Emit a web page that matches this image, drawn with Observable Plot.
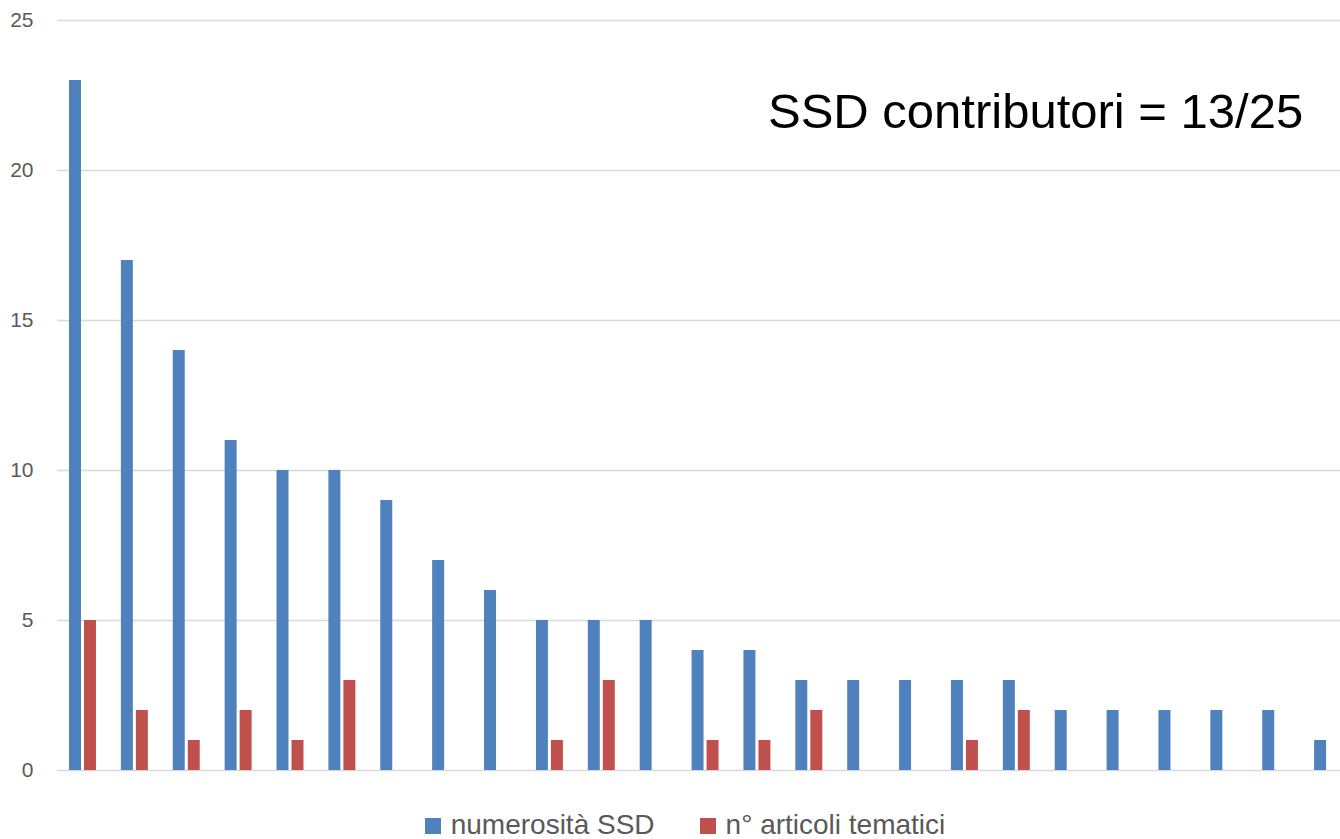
<!DOCTYPE html>
<html>
<head>
<meta charset="utf-8">
<script src="https://cdn.jsdelivr.net/npm/d3@7"></script>
<script src="https://cdn.jsdelivr.net/npm/@observablehq/plot@0.6"></script>
<style>
  html, body { margin: 0; padding: 0; background: #fff; }
  body { width: 1340px; height: 839px; position: relative; overflow: hidden; font-family: "Liberation Sans", Arial, sans-serif; }
  #note { position: absolute; left: 768px; top: 87px; font-size: 49px; line-height: 48px; color: #000; white-space: nowrap; }
  #legend { position: absolute; left: 0; width: 1340px; top: 808px; padding-left: 30px; box-sizing: border-box; display: flex; justify-content: center; align-items: center; font-size: 28px; line-height: 34px; color: #595959; }
  .item { display: flex; align-items: center; }
  .sw { width: 16px; height: 16px; margin-right: 10px; margin-top: 2px; }
  .gap { width: 45px; }
</style>
</head>
<body>
<div id="chart"></div>
<div id="note">SSD contributori = 13/25</div>
<div id="legend"></div>
<script>
const categories = ["SSD1","SSD2","SSD3","SSD4","SSD5","SSD6","SSD7","SSD8","SSD9","SSD10","SSD11","SSD12","SSD13","SSD14","SSD15","SSD16","SSD17","SSD18","SSD19","SSD20","SSD21","SSD22","SSD23","SSD24","SSD25"];
const numerositaSSD = [23,17,14,11,10,10,9,7,6,5,5,5,4,4,3,3,3,3,3,2,2,2,2,2,1];
const articoliTematici = [5,2,1,2,1,3,0,0,0,1,3,0,1,1,2,0,0,1,2,0,0,0,0,0,0];
const yTicks = [0,5,10,15,20,25];
const seriesNames = ["numerosità SSD", "n° articoli tematici"];
const seriesColors = ["#4F81BD", "#C0504D"];

const data = categories.map((c, i) => ({cat: c, blue: numerositaSSD[i], red: articoliTematici[i]}));

const chart = Plot.plot({
  width: 1340,
  height: 790,
  marginLeft: 57,
  marginRight: 0,
  marginTop: 20,
  marginBottom: 20,
  style: {fontFamily: "Liberation Sans, Arial, sans-serif", fontSize: "21px", color: "#595959", background: "#fff"},
  x: {domain: categories, range: [56.5, 1353.5], padding: 0, round: false, axis: null},
  y: {domain: [0, 25], axis: null},
  marks: [
    Plot.ruleY(yTicks, {stroke: "#d9d9d9", strokeWidth: 1.5}),
    Plot.barY(data, {x: "cat", y: "blue", fill: seriesColors[0], insetLeft: 12.5, insetRight: 27.4}),
    Plot.barY(data.filter(d => d.red > 0), {x: "cat", y: "red", fill: seriesColors[1], insetLeft: 27.5, insetRight: 12.4}),
    Plot.axisY({ticks: yTicks, tickSize: 0, tickPadding: 24, tickFormat: d => String(d)})
  ]
});
document.getElementById("chart").appendChild(chart);

const legend = document.getElementById("legend");
seriesNames.forEach((name, i) => {
  if (i > 0) { const g = document.createElement("div"); g.className = "gap"; legend.appendChild(g); }
  const item = document.createElement("div");
  item.className = "item";
  const sw = document.createElement("div");
  sw.className = "sw";
  sw.style.background = seriesColors[i];
  const t = document.createElement("span");
  t.textContent = name;
  item.appendChild(sw);
  item.appendChild(t);
  legend.appendChild(item);
});
</script>
</body>
</html>
